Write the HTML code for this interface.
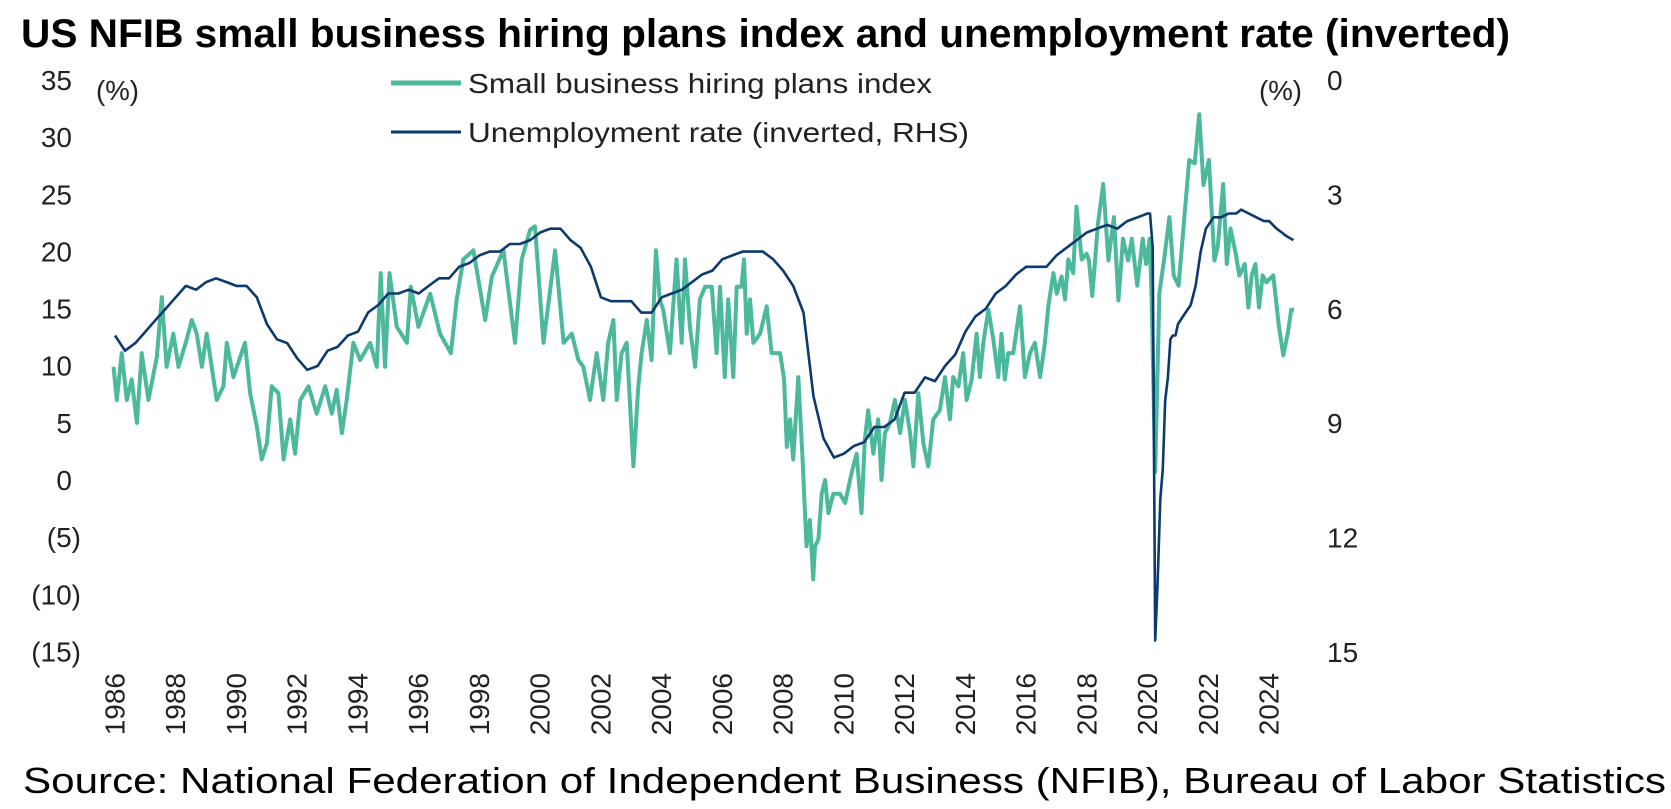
<!DOCTYPE html>
<html><head><meta charset="utf-8"><style>
html,body{margin:0;padding:0;background:#fff;}
svg{display:block;font-family:"Liberation Sans",sans-serif;}
</style></head><body>
<svg id="chart" width="1671" height="809" viewBox="0 0 1671 809" xmlns="http://www.w3.org/2000/svg">
<text x="21" y="47" font-size="40" font-weight="bold" fill="#000" textLength="1489" lengthAdjust="spacingAndGlyphs">US NFIB small business hiring plans index and unemployment rate (inverted)</text>
<text x="96" y="100" font-size="28" fill="#222" textLength="43" lengthAdjust="spacingAndGlyphs">(%)</text>
<text x="1259" y="100" font-size="28" fill="#222" textLength="43" lengthAdjust="spacingAndGlyphs">(%)</text>
<g>
<line x1="391" y1="83" x2="461" y2="83" stroke="#4cb89c" stroke-width="5"/>
<text x="468" y="93" font-size="28" fill="#222" textLength="464" lengthAdjust="spacingAndGlyphs">Small business hiring plans index</text>
<line x1="391" y1="132" x2="461" y2="132" stroke="#0d3a6e" stroke-width="3"/>
<text x="468" y="142" font-size="28" fill="#222" textLength="501" lengthAdjust="spacingAndGlyphs">Unemployment rate (inverted, RHS)</text>
</g>
<g id="axes"></g>
<g id="series"></g>
<text x="23" y="793" font-size="36" fill="#000" textLength="1643" lengthAdjust="spacingAndGlyphs">Source: National Federation of Independent Business (NFIB), Bureau of Labor Statistics</text>
</svg>
<script>
const leftTicks = [35,30,25,20,15,10,5,0,-5,-10,-15];
const rightTicks = [0,3,6,9,12,15];
const yearTicks = [1986,1988,1990,1992,1994,1996,1998,2000,2002,2004,2006,2008,2010,2012,2014,2016,2018,2020,2022,2024];

const unempDates = [
1986,1986.33,1986.67,1987,1987.33,1987.67,1988,1988.33,1988.67,1989,1989.33,1989.67,
1990,1990.33,1990.67,1991,1991.33,1991.67,1992,1992.33,1992.67,1993,1993.33,1993.67,
1994,1994.33,1994.67,1995,1995.33,1995.67,1996,1996.33,1996.67,1997,1997.33,1997.67,
1998,1998.33,1998.67,1999,1999.33,1999.67,2000,2000.33,2000.67,2001,2001.33,2001.67,
2002,2002.33,2002.67,2003,2003.33,2003.67,2004,2004.33,2004.67,2005,2005.33,2005.67,
2006,2006.33,2006.67,2007,2007.33,2007.67,2008,2008.33,2008.67,2009,2009.33,2009.67,
2010,2010.33,2010.67,2011,2011.33,2011.67,2012,2012.33,2012.67,2013,2013.33,2013.67,
2014,2014.33,2014.67,2015,2015.33,2015.67,2016,2016.33,2016.67,2017,2017.33,2017.67,
2018,2018.33,2018.67,2019,2019.33,2019.67,2020,2020.08,2020.17,2020.25,2020.33,2020.42,
2020.5,2020.58,2020.67,2020.75,2020.83,2020.92,2021,2021.25,2021.42,2021.58,2021.75,2021.92,
2022.17,2022.42,2022.67,2022.92,2023.08,2023.33,2023.58,2023.83,2024,2024.25,2024.42,2024.58,2024.8];
const unempValues = [
6.7,7.1,6.9,6.6,6.3,6.0,5.7,5.4,5.5,5.3,5.2,5.3,
5.4,5.4,5.7,6.4,6.8,6.9,7.3,7.6,7.5,7.1,7.0,6.7,
6.6,6.1,5.9,5.6,5.6,5.5,5.6,5.4,5.2,5.2,4.9,4.8,
4.6,4.5,4.5,4.3,4.3,4.2,4.0,3.9,3.9,4.2,4.4,4.9,
5.7,5.8,5.8,5.8,6.1,6.1,5.7,5.6,5.5,5.3,5.1,5.0,
4.7,4.6,4.5,4.5,4.5,4.7,5.0,5.4,6.1,8.3,9.4,9.9,
9.8,9.6,9.5,9.1,9.1,8.9,8.2,8.2,7.8,7.9,7.5,7.2,
6.6,6.2,6.0,5.6,5.4,5.1,4.9,4.9,4.9,4.6,4.4,4.2,
4.0,3.9,3.8,3.9,3.7,3.6,3.5,3.5,4.4,14.7,13.2,11.0,
10.2,8.4,7.8,6.8,6.7,6.7,6.4,6.1,5.9,5.4,4.5,3.9,
3.6,3.6,3.5,3.5,3.4,3.5,3.6,3.7,3.7,3.9,4.0,4.1,4.2];

const hiringDates = [
1985.95,1986.06,1986.22,1986.39,1986.55,1986.72,1986.88,1987.10,1987.38,1987.54,1987.70,1987.92,
1988.09,1988.36,1988.53,1988.69,1988.86,1989.02,1989.35,1989.57,1989.68,1989.90,1990.28,1990.45,
1990.67,1990.83,1991.00,1991.16,1991.38,1991.55,1991.77,1991.93,1992.10,1992.37,1992.64,1992.92,
1993.14,1993.30,1993.47,1993.63,1993.85,1994.07,1994.40,1994.62,1994.75,1994.89,1995.04,1995.28,
1995.61,1995.74,1995.99,1996.38,1996.70,1997.06,1997.25,1997.47,1997.80,1998.19,1998.41,1998.79,
1999.17,1999.39,1999.67,1999.83,2000.11,2000.49,2000.77,2001.04,2001.26,2001.42,2001.64,2001.86,
2002.08,2002.24,2002.41,2002.52,2002.68,2002.85,2003.07,2003.23,2003.34,2003.51,2003.67,2003.81,
2003.94,2004.05,2004.27,2004.49,2004.66,2004.77,2004.93,2005.10,2005.26,2005.43,2005.65,2005.81,
2005.92,2006.08,2006.19,2006.36,2006.47,2006.63,2006.71,2006.80,2006.91,2007.02,2007.24,2007.46,
2007.62,2007.79,2007.90,2008.03,2008.12,2008.23,2008.33,2008.50,2008.64,2008.77,2008.88,2008.99,
2009.05,2009.16,2009.27,2009.38,2009.49,2009.65,2009.87,2010.04,2010.20,2010.31,2010.42,2010.58,
2010.69,2010.80,2010.97,2011.13,2011.24,2011.35,2011.52,2011.68,2011.85,2012.01,2012.18,2012.29,
2012.45,2012.62,2012.78,2012.94,2013.16,2013.33,2013.49,2013.60,2013.77,2013.93,2014.04,2014.21,
2014.37,2014.48,2014.59,2014.76,2014.92,2015.08,2015.19,2015.30,2015.41,2015.58,2015.80,2015.96,
2016.13,2016.29,2016.46,2016.62,2016.73,2016.90,2017.01,2017.17,2017.28,2017.39,2017.55,2017.66,
2017.83,2017.99,2018.07,2018.18,2018.36,2018.54,2018.71,2018.89,2019.04,2019.19,2019.36,2019.48,
2019.66,2019.84,2019.95,2020.07,2020.13,2020.25,2020.39,2020.54,2020.72,2020.86,2021.02,2021.19,
2021.37,2021.55,2021.70,2021.84,2022.02,2022.20,2022.31,2022.49,2022.61,2022.73,2022.90,2023.02,
2023.20,2023.32,2023.43,2023.55,2023.67,2023.79,2023.91,2024.14,2024.32,2024.47,2024.62,2024.73,2024.82];
const hiringValues = [
9.9,7.0,11.1,7.0,8.8,5.0,11.1,7.0,10.8,16.0,9.9,12.8,
9.9,12.3,14.0,12.8,9.9,12.8,7.0,8.2,12.0,9.0,12.0,7.6,
4.7,1.8,3.2,8.2,7.6,1.8,5.3,2.3,7.0,8.2,5.8,8.2,
5.8,7.9,4.1,7.0,12.0,10.5,12.0,9.9,18.1,9.9,18.1,13.4,
12.0,16.9,13.4,16.3,12.8,11.1,15.8,19.3,20.1,14.0,17.8,20.1,
12.0,19.3,21.9,22.2,12.0,20.1,12.0,12.8,10.5,9.9,7.0,11.1,
7.0,12.0,14.0,7.0,11.1,12.0,1.2,8.2,11.1,14.0,10.5,20.1,
15.8,14.9,11.1,19.3,12.0,19.3,13.4,9.9,15.8,16.9,16.9,11.1,
16.9,9.0,15.8,9.0,16.9,16.9,19.3,12.8,15.8,12.0,12.8,15.2,
11.1,11.1,11.1,8.8,2.9,5.3,1.8,9.0,1.8,-5.8,-3.5,-8.7,
-5.8,-5.2,-1.2,0.0,-2.9,-1.2,-1.2,-2.0,0.0,1.2,2.3,-2.9,
3.5,6.1,2.3,5.3,0.0,4.1,5.0,7.0,4.1,7.0,4.1,1.2,
7.6,3.2,1.2,5.3,6.1,9.0,5.3,9.0,8.2,11.1,7.0,8.8,
12.8,9.0,12.0,14.9,12.3,9.0,12.8,8.8,11.1,11.1,15.2,9.0,
11.1,12.0,9.0,12.0,15.2,18.1,16.3,17.8,15.8,19.3,18.1,23.9,
19.3,19.8,19.2,16.1,22.3,25.9,19.2,23.0,15.7,21.1,19.2,21.1,
17.0,21.1,18.9,21.1,16.4,0.7,16.4,19.2,23.0,17.9,17.0,22.3,
28.0,27.7,32.0,25.8,28.0,19.2,20.4,25.9,18.9,22.0,19.8,17.9,
18.9,15.1,17.9,18.9,15.1,17.9,17.3,17.9,13.5,10.9,12.9,14.9,14.9];

const NS = "http://www.w3.org/2000/svg";
function xOf(t){ return 115 + (t - 1986) * 30.37; }
function yLeft(v){ return 480 - v * 11.43; }
function yRight(u){ return 80 + u * 38.13; }

const axes = document.getElementById('axes');
const series = document.getElementById('series');

leftTicks.forEach(v => {
  const t = document.createElementNS(NS, 'text');
  
  
  t.setAttribute('x', v < 0 ? 81 : 72);
  t.setAttribute('y', yLeft(v) + 10);
  t.setAttribute('font-size', '28');
  t.setAttribute('fill', '#222');
  t.setAttribute('text-anchor', 'end');
  t.textContent = v < 0 ? '(' + Math.abs(v) + ')' : String(v);
  axes.appendChild(t);
});
rightTicks.forEach(u => {
  const t = document.createElementNS(NS, 'text');
  
  
  t.setAttribute('x', 1327);
  t.setAttribute('y', yRight(u) + 10);
  t.setAttribute('font-size', '28');
  t.setAttribute('fill', '#222');
  t.textContent = String(u);
  axes.appendChild(t);
});
yearTicks.forEach(yr => {
  const t = document.createElementNS(NS, 'text');
  
  
  const x = xOf(yr), y = 673;
  t.setAttribute('x', x);
  t.setAttribute('y', y);
  t.setAttribute('font-size', '28');
  t.setAttribute('fill', '#222');
  t.setAttribute('text-anchor', 'end');
  t.setAttribute('dominant-baseline', 'central');
  t.setAttribute('transform', 'rotate(-90 ' + x + ' ' + y + ')');
  t.textContent = String(yr);
  axes.appendChild(t);
});

function makePath(dates, vals, yf){
  let d = '';
  for (let i = 0; i < dates.length; i++) {
    d += (i ? 'L' : 'M') + xOf(dates[i]).toFixed(1) + ',' + yf(vals[i]).toFixed(1);
  }
  return d;
}
const hp = document.createElementNS(NS, 'path');


hp.setAttribute('d', makePath(hiringDates, hiringValues, yLeft));
hp.setAttribute('fill', 'none');
hp.setAttribute('stroke', '#4cb89c');
hp.setAttribute('stroke-width', '4');
hp.setAttribute('stroke-linejoin', 'round');
series.appendChild(hp);

const up = document.createElementNS(NS, 'path');


up.setAttribute('d', makePath(unempDates, unempValues, yRight));
up.setAttribute('fill', 'none');
up.setAttribute('stroke', '#0d3a6e');
up.setAttribute('stroke-width', '2.6');
up.setAttribute('stroke-linejoin', 'round');
series.appendChild(up);
</script>
</body></html>
